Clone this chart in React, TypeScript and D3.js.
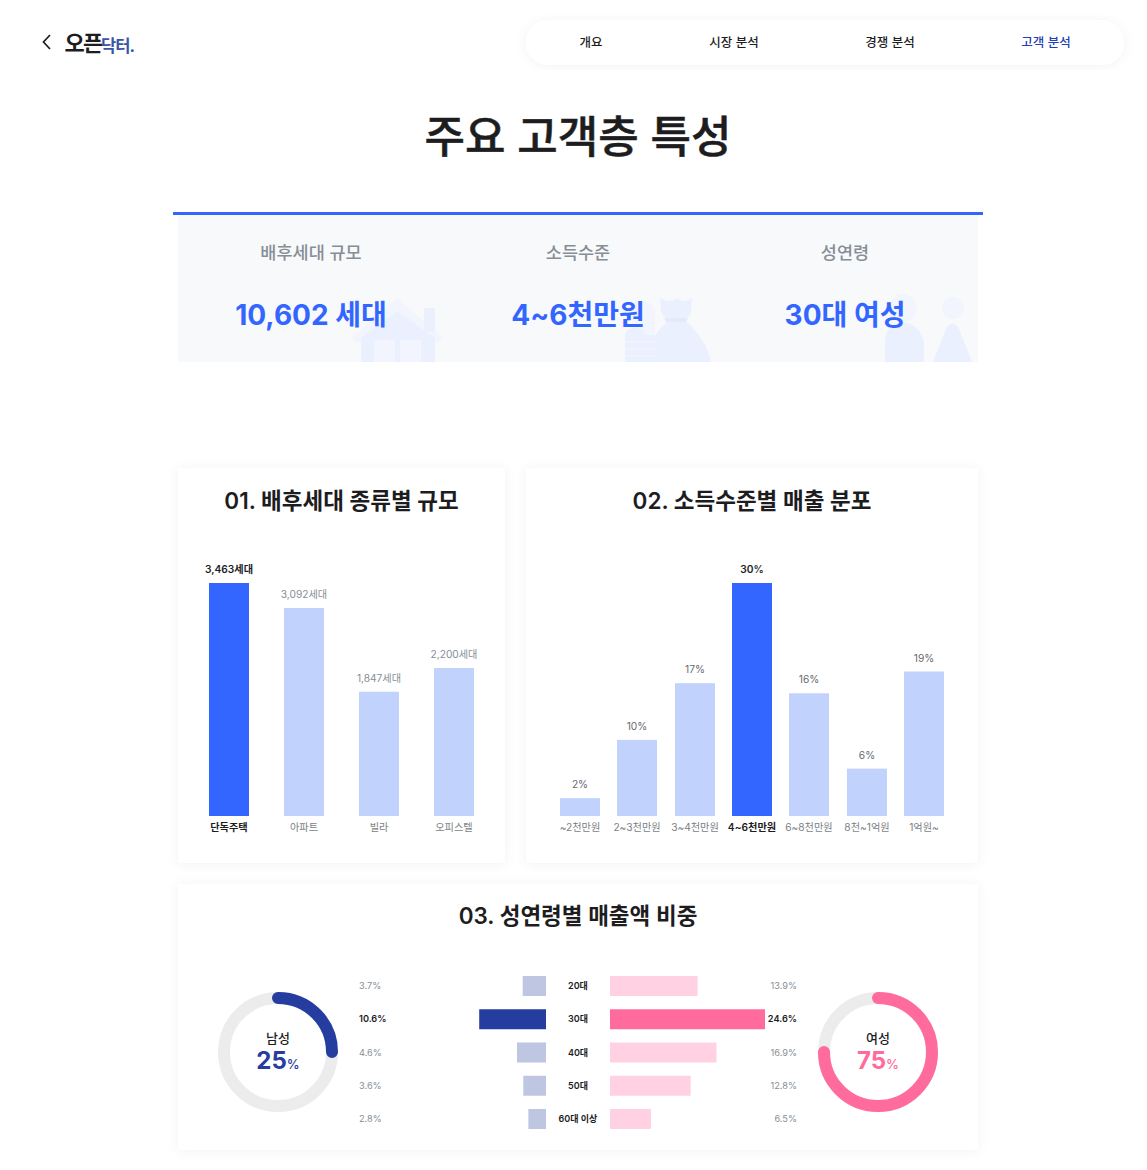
import React from 'react';
import * as d3 from 'd3';

const navItems = ['개요', '시장 분석', '경쟁 분석', '고객 분석'];

const summaryLabels = ['배후세대 규모', '소득수준', '성연령'];
const summaryValues = ['10,602 세대', '4~6천만원', '30대 여성'];

const houseTypes = ['단독주택', '아파트', '빌라', '오피스텔'];
const houseValues = [3463, 3092, 1847, 2200];

// bar heights sit slightly off the rounded labels, so values keep one decimal
const incomeBands = ['~2천만원', '2~3천만원', '3~4천만원', '4~6천만원', '6~8천만원', '8천~1억원', '1억원~'];
const incomeValues = [2.3, 9.8, 17.1, 30, 15.8, 6.1, 18.6];

const ageGroups = ['20대', '30대', '40대', '50대', '60대 이상'];
const maleValues = [3.7, 10.6, 4.6, 3.6, 2.8];
const femaleValues = [13.9, 24.6, 16.9, 12.8, 6.5];
const genderShare = [25, 75];

const FONT = 'Inter, "Noto Sans CJK KR", sans-serif';
const BLUE = '#3366ff';
const BLUE_SOFT = '#c1d3fd';
const NAVY = '#253d9e';
const NAVY_SOFT = '#bec6e2';
const PINK = '#ff6b9d';
const PINK_SOFT = '#ffd1e3';
const DARK = '#1d1d1f';
const GREY = '#868e96';
const ICON = '#ebf0fe';
const ICON_FAINT = '#f2f5fe';

const Card = ({ x, y, w, h }: { x: number; y: number; w: number; h: number }) => (
  <rect x={x} y={y} width={w} height={h} fill="#fff" filter="url(#soft)" />
);

// column chart used by the first two cards
const Columns = ({ labels, values, from, to, fmt, valueColor }: {
  labels: string[]; values: number[]; from: number; to: number; fmt: (v: number) => string; valueColor: string;
}) => {
  const x = d3.scalePoint<string>().domain(labels).range([from, to]);
  const y = d3.scaleLinear().domain([0, d3.max(values) as number]).range([816, 583]);
  const top = d3.max(values);
  return (
    <g>
      {labels.map((label, i) => {
        const cx = Math.round(x(label) as number);
        const active = values[i] === top;
        return (
          <g key={label}>
            <rect x={cx - 20} y={y(values[i])} width={40} height={y(0) - y(values[i])} fill={active ? BLUE : BLUE_SOFT} />
            <text x={cx} y={y(values[i]) - 10} textAnchor="middle" fontSize={10.2} fontWeight={active ? 600 : 400} fill={active ? DARK : valueColor}>
              {fmt(values[i])}
            </text>
            <text x={cx} y={831} textAnchor="middle" fontSize={10.2} fontWeight={active ? 600 : 400} fill={active ? DARK : '#7b7f85'}>
              {label}
            </text>
          </g>
        );
      })}
    </g>
  );
};

const Donut = ({ cx, label, index, color }: { cx: number; label: string; index: number; color: string }) => {
  const slices = d3.pie<number>().sort(null)(genderShare);
  const sweep = slices[index].endAngle - slices[index].startAngle;
  // open path so the round caps show
  const ring = d3.path();
  ring.arc(0, 0, 54, -Math.PI / 2, -Math.PI / 2 + sweep);
  return (
    <g transform={`translate(${cx},1052)`}>
      <circle r={54} fill="none" stroke="#ececec" strokeWidth={12} />
      <path d={ring.toString()} fill="none" stroke={color} strokeWidth={12} strokeLinecap="round" />
      <text y={-9} textAnchor="middle" fontSize={13} fontWeight={500} fill={DARK}>{label}</text>
      <text y={17} textAnchor="middle" fontSize={24} fontWeight={700} fill={color}>
        {genderShare[index]}<tspan fontSize={13} fontWeight={500}>%</tspan>
      </text>
    </g>
  );
};

const App = () => {
  const rowY = d3.scalePoint<string>().domain(ageGroups).range([986, 1119]);
  const barW = d3.scaleLinear().domain([0, 24.6]).range([0, 155]);
  const maxMale = d3.max(maleValues);
  const maxFemale = d3.max(femaleValues);
  const navX = [591, 734, 890, 1046];
  const summaryX = [311, 578, 845];

  return (
    <svg width={1147} height={1170} fontFamily={FONT} style={{ position: 'absolute', left: 0, top: 0, background: '#fff' }}>
      <defs>
        <filter id="soft" x="-10%" y="-10%" width="120%" height="120%">
          <feDropShadow dx="0" dy="1" stdDeviation="6" floodColor="#000" floodOpacity="0.05" />
        </filter>
        <clipPath id="box"><rect x={178} y={215} width={800} height={147} /></clipPath>
      </defs>

      {/* header */}
      <path d="M50 35 L43.5 42 L50 49" fill="none" stroke={DARK} strokeWidth={1.7} />
      <text x={64.5} y={50.5} fontSize={22} fontWeight={700} fill={DARK} letterSpacing={-1.8}>오픈</text>
      <text x={101} y={51.5} fontSize={16.5} fontWeight={700} fill="#3a55a5" letterSpacing={-0.9}>닥터.</text>
      <rect x={526} y={20} width={598} height={45} rx={22} fill="#fff" filter="url(#soft)" />
      {navItems.map((item, i) => (
        <text key={item} x={navX[i]} y={46.5} textAnchor="middle" fontSize={12.5} fontWeight={500} fill={i === 3 ? '#2340b8' : DARK}>{item}</text>
      ))}

      <text x={578} y={153} textAnchor="middle" fontSize={44} fontWeight={500} stroke={DARK} strokeWidth={0.5} fill={DARK}>주요 고객층 특성</text>

      {/* summary */}
      <rect x={178} y={215} width={800} height={147} fill="#f8f9fb" />
      <g clipPath="url(#box)" fill={ICON}>
        <path d="M352 338 L397 298 L443 338 L437 343 L397 310 L358 343 Z" fill={ICON_FAINT} />
        <rect x={424} y={308} width={11} height={24} rx={1.5} />
        <path d="M361 338 L397 311 L435 338 V362 H361 Z" />
        <rect x={374} y={340} width={21} height={22} fill={ICON_FAINT} />
        <rect x={400} y={340} width={21} height={22} fill={ICON_FAINT} />

        <path d="M660 298 Q669 304 677 298 Q685 304 692 298 L691 312 Q689 318 684 320 C700 332 709 350 711 362 H655 V336 C658 330 665 324 669 320 Q662 316 661 310 Z" />
        <path d="M664 318 L688 318 L686 322 L666 322 Z" fill="#e4eafb" />
        <ellipse cx={640} cy={309} rx={15} ry={8} fill={ICON_FAINT} />
        <rect x={632} y={309} width={23} height={26} fill={ICON_FAINT} />
        <ellipse cx={635} cy={335} rx={10} ry={7} />
        <rect x={625} y={335} width={30} height={27} fill={ICON} />
        {[342, 349, 356].map((ly) => (
          <line key={ly} x1={625} x2={655} y1={ly} y2={ly} stroke={ICON_FAINT} strokeWidth={1} />
        ))}

        <circle cx={903} cy={308} r={14} fill={ICON_FAINT} />
        <path d="M885 362 V340 Q886 326 903 322 Q923 326 924 346 V362 Z" />
        <circle cx={953} cy={308} r={11} fill={ICON_FAINT} />
        <path d="M933 362 L946 329 Q952 318 959 329 L972 362 Z" />
      </g>
      <rect x={173} y={212} width={810} height={3} fill={BLUE} />
      {summaryLabels.map((label, i) => (
        <text key={label} x={summaryX[i]} y={259} textAnchor="middle" fontSize={17.5} fontWeight={500} fill={GREY}>{label}</text>
      ))}
      {summaryValues.map((value, i) => (
        <text key={value} x={summaryX[i]} y={325} textAnchor="middle" fontSize={28} fontWeight={700} fill={BLUE}>{value}</text>
      ))}

      {/* cards */}
      <Card x={178} y={468} w={327} h={395} />
      <Card x={526} y={468} w={452} h={395} />
      <Card x={178} y={884} w={800} h={266} />

      <text x={341.5} y={509} textAnchor="middle" fontSize={22.5} fontWeight={600} fill={DARK}>01. 배후세대 종류별 규모</text>
      <text x={752} y={509} textAnchor="middle" fontSize={22.5} fontWeight={600} fill={DARK}>02. 소득수준별 매출 분포</text>
      <text x={578} y={924} textAnchor="middle" fontSize={22.5} fontWeight={600} fill={DARK}>03. 성연령별 매출액 비중</text>

      <Columns labels={houseTypes} values={houseValues} from={229} to={454} valueColor={GREY} fmt={(v) => `${d3.format(',')(v)}세대`} />
      <Columns labels={incomeBands} values={incomeValues} from={580} to={924} valueColor="#666a70" fmt={(v) => `${d3.format('.0f')(v)}%`} />

      {/* age pyramid */}
      {ageGroups.map((age, i) => {
        const cy = rowY(age) as number;
        const male = maleValues[i];
        const female = femaleValues[i];
        return (
          <g key={age}>
            <text x={359} y={cy + 3} fontSize={9.2} fontWeight={male === maxMale ? 600 : 400} fill={male === maxMale ? DARK : GREY}>{male}%</text>
            <rect x={546 - barW(male)} y={cy - 10} width={barW(male)} height={20} fill={male === maxMale ? NAVY : NAVY_SOFT} />
            <text x={578} y={cy + 3} textAnchor="middle" fontSize={9} fontWeight={600} fill={DARK}>{age}</text>
            <rect x={610} y={cy - 10} width={barW(female)} height={20} fill={female === maxFemale ? PINK : PINK_SOFT} />
            <text x={797} y={cy + 3} textAnchor="end" fontSize={9.2} fontWeight={female === maxFemale ? 600 : 400} fill={female === maxFemale ? DARK : GREY}>{female}%</text>
          </g>
        );
      })}

      <Donut cx={278} label="남성" index={0} color={NAVY} />
      <Donut cx={878} label="여성" index={1} color={PINK} />
    </svg>
  );
};

export default App;
